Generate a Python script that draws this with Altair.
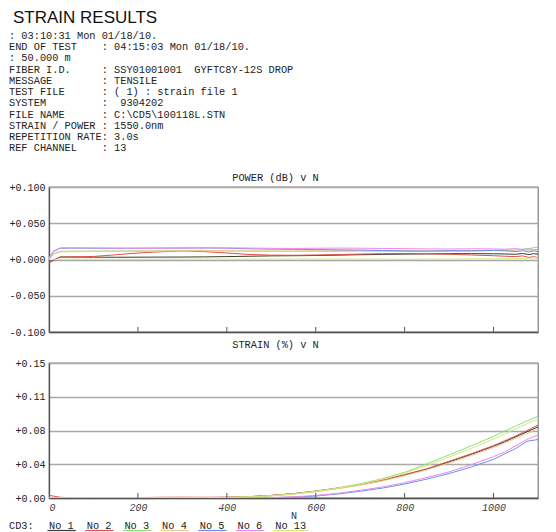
import altair as alt
import pandas as pd

# ---------------- text ----------------
title_text = "STRAIN RESULTS"
header_lines = [
    ": 03:10:31 Mon 01/18/10.",
    "END OF TEST    : 04:15:03 Mon 01/18/10.",
    ": 50.000 m",
    "FIBER I.D.     : SSY01001001  GYFTC8Y-12S DROP",
    "MESSAGE        : TENSILE",
    "TEST FILE      : ( 1) : strain file 1",
    "SYSTEM         :  9304202",
    "FILE NAME      : C:\\CD5\\100118L.STN",
    "STRAIN / POWER : 1550.0nm",
    "REPETITION RATE: 3.0s",
    "REF CHANNEL    : 13",
]
power_title = "POWER (dB) v N"
strain_title = "STRAIN (%) v N"
x_title = "N"
legend_prefix = "CD3:"

# ---------------- series ----------------
series = ["No 1", "No 2", "No 3", "No 4", "No 5", "No 6", "No 13"]
colors = ["#3a3a3a", "#e0504a", "#8ee07a", "#f2c890", "#6a8ff0", "#ee88ee", "#d4e87a"]

power_n = [0, 10, 25, 50, 100, 150, 200, 250, 300, 350, 400, 450, 500, 550, 600,
           650, 700, 750, 800, 850, 900, 950, 1000, 1025, 1050, 1065, 1080, 1090, 1100]
power_no1 = [-0.0045, -0.0010, 0.0035, 0.0034, 0.0032, 0.0031, 0.0032, 0.0033, 0.0034, 0.0036,
             0.0040, 0.0045, 0.0050, 0.0052, 0.0055, 0.0060, 0.0066, 0.0070, 0.0074, 0.0078,
             0.0080, 0.0081, 0.0079, 0.0076, 0.0072, 0.0083, 0.0068, 0.0080, 0.0074]
power_no2 = [-0.0040, -0.0010, 0.0032, 0.0036, 0.0042, 0.0065, 0.0090, 0.0106, 0.0118, 0.0108,
             0.0090, 0.0070, 0.0060, 0.0058, 0.0062, 0.0068, 0.0075, 0.0080, 0.0082, 0.0078,
             0.0072, 0.0062, 0.0052, 0.0045, 0.0040, 0.0050, 0.0028, 0.0040, 0.0024]
power_no3 = [0.0010, 0.0080, 0.0112, 0.0115, 0.0116, 0.0117, 0.0118, 0.0120, 0.0121, 0.0120,
             0.0118, 0.0116, 0.0115, 0.0114, 0.0113, 0.0115, 0.0117, 0.0116, 0.0114, 0.0113,
             0.0114, 0.0118, 0.0122, 0.0126, 0.0130, 0.0142, 0.0150, 0.0162, 0.0170]
power_no4 = [0.0005, 0.0070, 0.0105, 0.0108, 0.0110, 0.0112, 0.0114, 0.0117, 0.0120, 0.0122,
             0.0121, 0.0118, 0.0116, 0.0117, 0.0119, 0.0122, 0.0125, 0.0124, 0.0121, 0.0119,
             0.0120, 0.0123, 0.0127, 0.0132, 0.0128, 0.0140, 0.0125, 0.0138, 0.0132]
power_no5 = [0.0020, 0.0110, 0.0155, 0.0157, 0.0156, 0.0155, 0.0156, 0.0158, 0.0159, 0.0160,
             0.0156, 0.0148, 0.0143, 0.0140, 0.0137, 0.0133, 0.0130, 0.0124, 0.0118, 0.0116,
             0.0122, 0.0120, 0.0125, 0.0120, 0.0108, 0.0122, 0.0104, 0.0118, 0.0110]
power_no6 = [0.0025, 0.0115, 0.0160, 0.0160, 0.0158, 0.0156, 0.0155, 0.0154, 0.0156, 0.0159,
             0.0160, 0.0158, 0.0154, 0.0152, 0.0155, 0.0157, 0.0156, 0.0152, 0.0150, 0.0146,
             0.0145, 0.0148, 0.0146, 0.0142, 0.0150, 0.0138, 0.0146, 0.0130, 0.0140]
power_no13 = [0.0002, 0.0003, 0.0004, 0.0005, 0.0004, 0.0003, 0.0003, 0.0004, 0.0005, 0.0006,
              0.0006, 0.0005, 0.0005, 0.0006, 0.0007, 0.0007, 0.0006, 0.0005, 0.0004, 0.0005,
              0.0006, 0.0008, 0.0009, 0.0010, 0.0012, 0.0015, 0.0018, 0.0020, 0.0022]

strain_n = [0, 25, 50, 100, 150, 200, 250, 300, 350, 400, 450, 500, 550, 600, 650, 700,
            750, 800, 850, 900, 950, 1000, 1025, 1050, 1075, 1100]
strain_no1 = [0.0005, 0.0002, 0.0001, 0.0001, 0.0002, 0.0003, 0.0004, 0.0004, 0.0005, 0.0007,
              0.0014, 0.0027, 0.0047, 0.0075, 0.0108, 0.0147, 0.0195, 0.0255, 0.0320, 0.0400,
              0.0485, 0.0575, 0.0625, 0.0680, 0.0735, 0.0790]
strain_no2 = [0.0030, 0.0008, 0.0002, 0.0002, 0.0003, 0.0005, 0.0008, 0.0009, 0.0008, 0.0009,
              0.0016, 0.0029, 0.0049, 0.0077, 0.0110, 0.0150, 0.0200, 0.0260, 0.0325, 0.0408,
              0.0492, 0.0582, 0.0635, 0.0690, 0.0748, 0.0810]
strain_no3 = [0.0002, 0.0001, 0.0001, 0.0001, 0.0001, 0.0002, 0.0002, 0.0003, 0.0004, 0.0006,
              0.0013, 0.0026, 0.0047, 0.0076, 0.0113, 0.0158, 0.0215, 0.0285, 0.0380, 0.0478,
              0.0580, 0.0685, 0.0742, 0.0800, 0.0855, 0.0910]
strain_no4 = [0.0003, 0.0002, 0.0001, 0.0001, 0.0001, 0.0002, 0.0003, 0.0003, 0.0004, 0.0006,
              0.0012, 0.0024, 0.0043, 0.0070, 0.0103, 0.0142, 0.0190, 0.0248, 0.0312, 0.0390,
              0.0472, 0.0560, 0.0610, 0.0662, 0.0715, 0.0770]
strain_no5 = [0.0001, 0.0000, 0.0000, 0.0000, 0.0000, 0.0000, 0.0000, 0.0000, 0.0000, 0.0000,
              0.0001, 0.0003, 0.0010, 0.0022, 0.0045, 0.0075, 0.0110, 0.0155, 0.0210, 0.0272,
              0.0345, 0.0430, 0.0490, 0.0550, 0.0630, 0.0650]
strain_no6 = [0.0001, 0.0000, 0.0000, 0.0000, 0.0000, 0.0000, 0.0000, 0.0000, 0.0000, 0.0000,
              0.0002, 0.0005, 0.0014, 0.0028, 0.0052, 0.0085, 0.0122, 0.0170, 0.0228, 0.0290,
              0.0370, 0.0460, 0.0510, 0.0580, 0.0650, 0.0700]
strain_no13 = [0.0002, 0.0001, 0.0001, 0.0001, 0.0001, 0.0002, 0.0002, 0.0003, 0.0004, 0.0006,
               0.0012, 0.0024, 0.0044, 0.0072, 0.0108, 0.0152, 0.0207, 0.0275, 0.0360, 0.0455,
               0.0552, 0.0655, 0.0712, 0.0770, 0.0825, 0.0880]

power_ticks = [0.1, 0.05, 0.0, -0.05, -0.1]
power_tick_labels = ["+0.100", "+0.050", "+0.000", "-0.050", "-0.100"]
strain_ticks = [0.0, 0.0375, 0.075, 0.1125, 0.15]
strain_tick_labels = ["+0.00", "+0.04", "+0.08", "+0.11", "+0.15"]
x_ticks = [0, 200, 400, 600, 800, 1000]

# ---------------- build tables ----------------
power_all = [power_no1, power_no2, power_no3, power_no4, power_no5, power_no6, power_no13]
strain_all = [strain_no1, strain_no2, strain_no3, strain_no4, strain_no5, strain_no6, strain_no13]

pdf = pd.DataFrame([
    {"N": n, "value": v, "series": s, "ord": i}
    for i, (s, vals) in enumerate(zip(series, power_all)) for n, v in zip(power_n, vals)
])
sdf = pd.DataFrame([
    {"N": n, "value": v, "series": s, "ord": i}
    for i, (s, vals) in enumerate(zip(series, strain_all)) for n, v in zip(strain_n, vals)
])
tick_df = pd.DataFrame({"N": x_ticks[1:]})
leg_df = pd.DataFrame({"series": series, "idx": list(range(len(series)))})
one = pd.DataFrame({"a": [0]})


def label_expr(ticks, labels):
    expr = "''"
    for t, l in zip(reversed(ticks), reversed(labels)):
        expr = f"(abs(datum.value - ({float(t)})) < 1e-9 ? '{l}' : {expr})"
    return expr


NB = "\u00a0"
header_text = "\n".join(l.replace(" ", NB) for l in header_lines)

W, HP, HS = 489, 145, 135
LEFT = -40
mono = "Liberation Mono"
xs = alt.Scale(domain=[0, 1100], nice=False, zero=False)
cscale = alt.Scale(domain=series, range=colors)

# ---------------- POWER panel ----------------
p_lines = alt.Chart(pdf).mark_line(strokeWidth=1, clip=True).encode(
    x=alt.X("N:Q", scale=xs, axis=alt.Axis(labels=False, ticks=False, grid=False, domain=True,
                                           domainColor="#555", domainWidth=1.3, title=None)),
    y=alt.Y("value:Q", scale=alt.Scale(domain=[-0.1, 0.1], nice=False),
            axis=alt.Axis(values=power_ticks, labelExpr=label_expr(power_ticks, power_tick_labels),
                          grid=True, gridColor="#a8a8a8", gridWidth=1.6, ticks=False,
                          domain=True, domainColor="#555", domainWidth=1.3,
                          labelFont=mono, labelFontSize=10, labelColor="#222",
                          labelPadding=4, title=None)),
    color=alt.Color("series:N", scale=cscale, legend=None),
    order=alt.Order("ord:Q"),
)
p_ticks = alt.Chart(tick_df).mark_rule(color="#555", strokeWidth=1).encode(
    x=alt.X("N:Q", scale=xs), y=alt.value(HP), y2=alt.value(HP - 5))
p_title = alt.Chart(one).mark_text(font=mono, fontSize=10.3, align="center", baseline="middle",
                                   color="#222").encode(
    x=alt.value(W / 2 - 18), y=alt.value(-9), text=alt.value(power_title))
header = alt.Chart(one).mark_text(font=mono, fontSize=10.3, align="left", baseline="top",
                                  lineBreak="\n", lineHeight=11.23, color="#222").encode(
    x=alt.value(LEFT), y=alt.value(-156), text=alt.value(header_text))
big_title = alt.Chart(one).mark_text(font="Liberation Sans", fontSize=17, align="left",
                                     baseline="top", color="#111").encode(
    x=alt.value(LEFT + 4), y=alt.value(-177), text=alt.value(title_text))

power_chart = alt.layer(p_lines, p_ticks, p_title, header, big_title).properties(width=W, height=HP)

# ---------------- STRAIN panel ----------------
s_lines = alt.Chart(sdf).mark_line(strokeWidth=1, clip=True).encode(
    x=alt.X("N:Q", scale=xs, title=x_title,
            axis=alt.Axis(values=x_ticks, format="d", labels=True, ticks=False, grid=False,
                          domain=True, domainColor="#555", domainWidth=1.3, labelFont=mono,
                          labelFontStyle="italic", labelFontSize=10, labelColor="#444",
                          labelPadding=4, titleFont=mono, titleFontSize=10,
                          titleFontWeight="normal", titleColor="#333", titlePadding=-2)),
    y=alt.Y("value:Q", scale=alt.Scale(domain=[0, 0.15], nice=False),
            axis=alt.Axis(values=strain_ticks, labelExpr=label_expr(strain_ticks, strain_tick_labels),
                          grid=True, gridColor="#a8a8a8", gridWidth=1.6, ticks=False,
                          domain=True, domainColor="#555", domainWidth=1.3,
                          labelFont=mono, labelFontSize=10, labelColor="#222",
                          labelPadding=4, title=None)),
    color=alt.Color("series:N", scale=cscale, legend=None),
    order=alt.Order("ord:Q"),
)
s_ticks = alt.Chart(tick_df).mark_rule(color="#555", strokeWidth=1).encode(
    x=alt.X("N:Q", scale=xs, title=x_title), y=alt.value(HS), y2=alt.value(HS - 5))
s_title = alt.Chart(one).mark_text(font=mono, fontSize=10.3, align="center", baseline="middle",
                                   color="#222").encode(
    x=alt.value(W / 2 - 18), y=alt.value(-18), text=alt.value(strain_title))

px_per_n = W / 1100.0
step_n = 37.7 / px_per_n
char_n = 6.2 / px_per_n
leg_base = alt.Chart(leg_df).transform_calculate(
    xs0=f"datum.idx * {step_n} - {1.5 / px_per_n}",
    xt=f"datum.idx * {step_n}",
    xe=f"datum.idx * {step_n} + length(datum.series) * {char_n} + {2 / px_per_n}",
)
leg_text = leg_base.mark_text(font=mono, fontSize=10.3, align="left", baseline="middle",
                              color="#222").encode(
    x=alt.X("xt:Q", scale=xs, title=x_title), y=alt.value(HS + 28), text="series:N")
leg_line = leg_base.mark_rule(strokeWidth=1.2).encode(
    x=alt.X("xs0:Q", scale=xs, title=x_title), x2="xe:Q", y=alt.value(HS + 32.5),
    color=alt.Color("series:N", scale=cscale, legend=None))
cd3 = alt.Chart(one).mark_text(font=mono, fontSize=10.3, align="left", baseline="middle",
                               color="#222").encode(
    x=alt.value(LEFT), y=alt.value(HS + 28), text=alt.value(legend_prefix))

strain_chart = alt.layer(s_lines, s_ticks, s_title, leg_line, leg_text, cd3).properties(width=W, height=HS)

chart = alt.vconcat(power_chart, strain_chart, spacing=1).properties(
    padding=0, background="white"
).configure_view(stroke="#8a8a8a", strokeWidth=1.3)

chart.save("out.html", embed_options={"renderer": "svg", "actions": False})
